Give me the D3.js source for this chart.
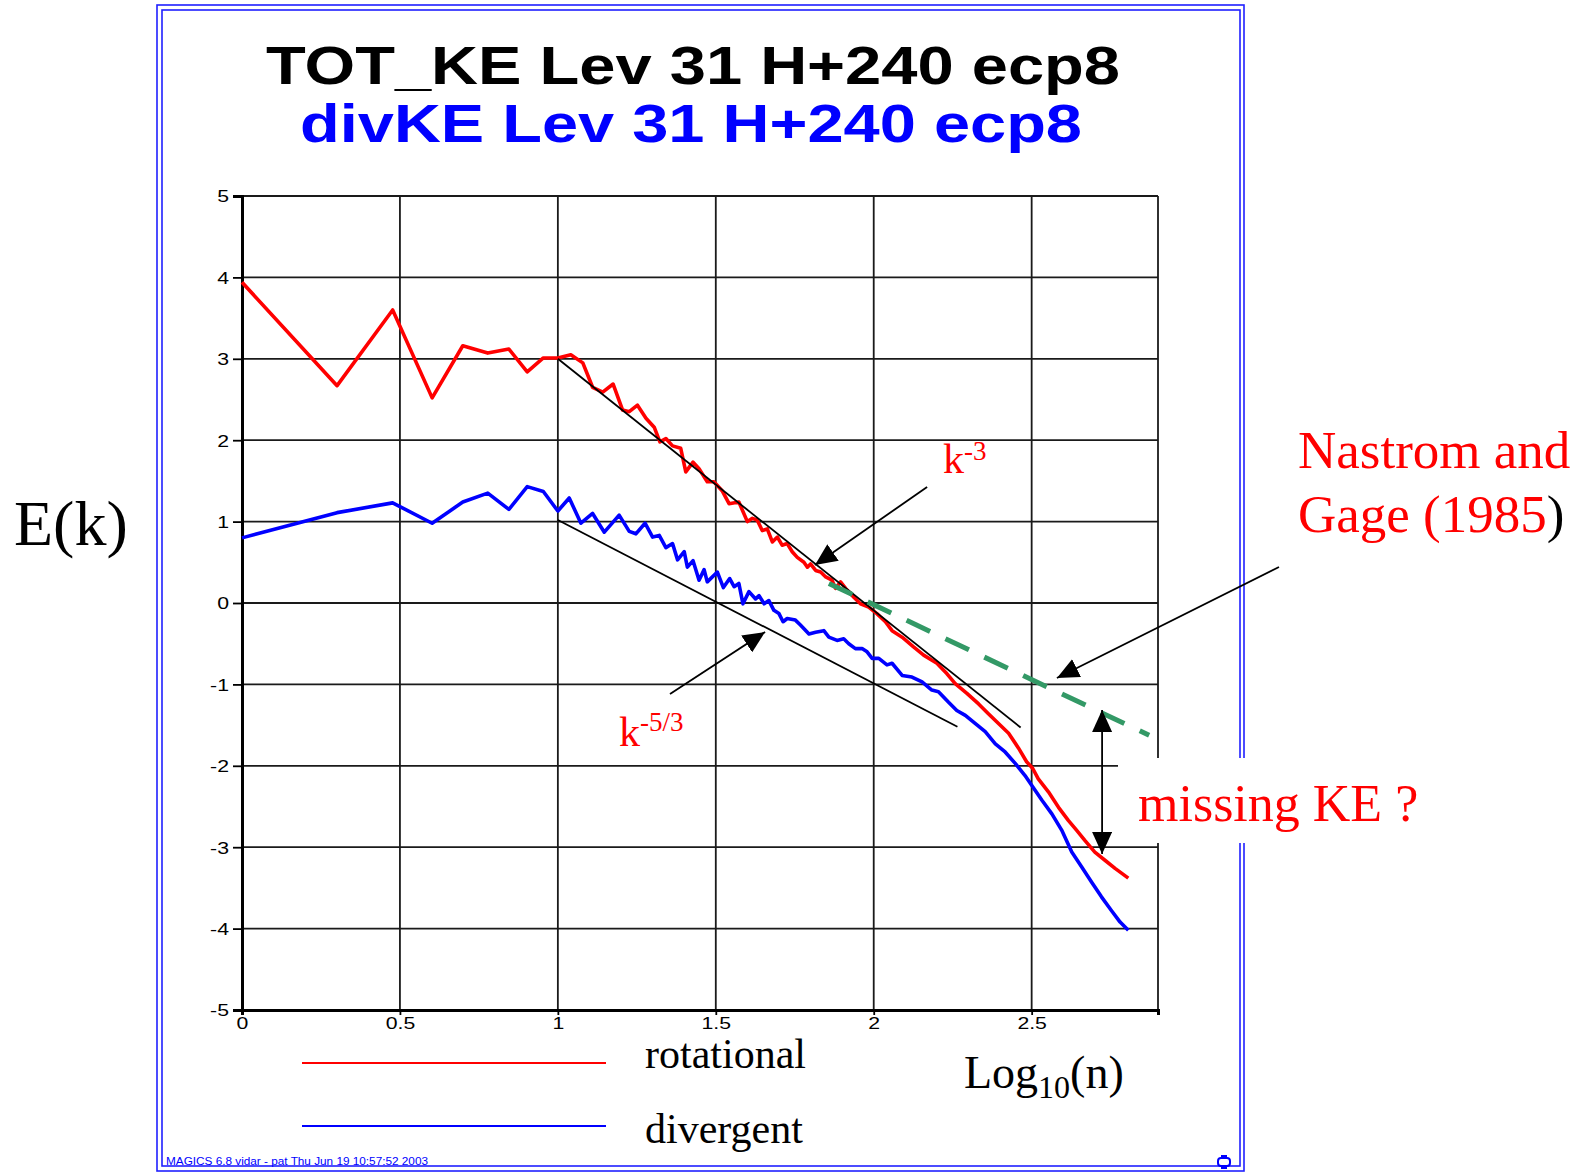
<!DOCTYPE html>
<html lang="en">
<head>
<meta charset="UTF-8" />
<title>TOT_KE / divKE Lev 31 H+240 ecp8</title>
<script src="https://d3js.org/d3.v7.min.js"></script>
<style>
  body { margin: 0; background: #fff; }
  svg { display: block; }
  .magics { font-family: "Liberation Sans", Arial, sans-serif; }
  .times { font-family: "Liberation Serif", "Times New Roman", serif; }
</style>
</head>
<body>
<svg id="chart" width="1592" height="1172"></svg>
<script>
// axis ticks
const xTicks = [0, 0.5, 1, 1.5, 2, 2.5];
const yTicks = [5, 4, 3, 2, 1, 0, -1, -2, -3, -4, -5];

// rotational KE spectrum, x = log10(n)
const rotX = [0, 0.301, 0.477, 0.602, 0.699, 0.778, 0.845, 0.903, 0.954, 1.0, 1.041, 1.079,
  1.110, 1.142, 1.175, 1.205, 1.226, 1.252, 1.279, 1.305, 1.323, 1.342, 1.363, 1.389, 1.405,
  1.428, 1.447, 1.473, 1.494, 1.520, 1.542, 1.573, 1.600, 1.616, 1.631, 1.647, 1.663, 1.679,
  1.695, 1.710, 1.726, 1.742, 1.758, 1.779, 1.790, 1.800, 1.816, 1.832, 1.848, 1.868, 1.879,
  1.895, 1.911, 1.937, 1.958, 1.984, 2.010, 2.037, 2.058, 2.090, 2.126, 2.158, 2.200, 2.232,
  2.258, 2.295, 2.332, 2.363, 2.395, 2.427, 2.458, 2.484, 2.503, 2.521, 2.553, 2.585, 2.616,
  2.642, 2.669, 2.700, 2.732, 2.764, 2.806];
const rotY = [3.94, 2.67, 3.60, 2.52, 3.16, 3.07, 3.12, 2.84, 3.01, 3.01, 3.05, 2.95,
  2.65, 2.59, 2.69, 2.37, 2.35, 2.43, 2.27, 2.16, 1.98, 2.02, 1.93, 1.90, 1.61,
  1.73, 1.65, 1.49, 1.49, 1.38, 1.22, 1.24, 1.00, 1.04, 1.02, 0.89, 0.91, 0.75,
  0.81, 0.71, 0.73, 0.63, 0.56, 0.50, 0.44, 0.48, 0.40, 0.38, 0.32, 0.28, 0.18,
  0.26, 0.18, 0.07, -0.01, -0.05, -0.13, -0.23, -0.34, -0.42, -0.54, -0.64, -0.74, -0.87,
  -0.99, -1.11, -1.24, -1.36, -1.48, -1.60, -1.78, -1.95, -2.03, -2.16, -2.32, -2.51, -2.67,
  -2.79, -2.92, -3.06, -3.16, -3.26, -3.38];

// divergent KE spectrum
const divX = [0, 0.301, 0.477, 0.602, 0.699, 0.778, 0.845, 0.903, 0.954, 1.0, 1.036, 1.073,
  1.110, 1.147, 1.194, 1.226, 1.247, 1.276, 1.300, 1.321, 1.342, 1.363, 1.379, 1.400, 1.410,
  1.428, 1.447, 1.463, 1.473, 1.505, 1.524, 1.544, 1.558, 1.573, 1.586, 1.605, 1.626, 1.637,
  1.653, 1.668, 1.684, 1.700, 1.713, 1.726, 1.752, 1.768, 1.795, 1.816, 1.842, 1.858, 1.884,
  1.905, 1.921, 1.942, 1.963, 1.979, 1.995, 2.016, 2.042, 2.058, 2.090, 2.121, 2.153, 2.184,
  2.205, 2.237, 2.263, 2.290, 2.321, 2.353, 2.385, 2.416, 2.448, 2.479, 2.500, 2.532, 2.564,
  2.595, 2.627, 2.658, 2.690, 2.721, 2.753, 2.780, 2.806];
const divY = [0.80, 1.11, 1.23, 0.98, 1.24, 1.35, 1.15, 1.43, 1.37, 1.13, 1.29, 0.98,
  1.10, 0.87, 1.08, 0.88, 0.85, 0.98, 0.81, 0.83, 0.68, 0.73, 0.53, 0.63, 0.44,
  0.52, 0.28, 0.41, 0.26, 0.38, 0.19, 0.30, 0.20, 0.24, -0.01, 0.14, 0.05, 0.09,
  -0.01, 0.03, -0.09, -0.13, -0.23, -0.19, -0.21, -0.27, -0.38, -0.36, -0.34, -0.42, -0.46,
  -0.44, -0.50, -0.56, -0.56, -0.60, -0.68, -0.68, -0.76, -0.74, -0.89, -0.91, -0.97, -1.07,
  -1.09, -1.22, -1.32, -1.38, -1.48, -1.58, -1.73, -1.83, -1.97, -2.12, -2.24, -2.42, -2.59,
  -2.79, -3.06, -3.24, -3.43, -3.61, -3.78, -3.92, -4.02];

// reference slopes and Nastrom & Gage line
const slope3X = [1, 2.465], slope3Y = [3, -1.53];
const slope53X = [1, 2.265], slope53Y = [1.02, -1.52];
const nastromX = [1.858, 2.872], nastromY = [0.24, -1.625];

const svg = d3.select("#chart");
const x = d3.scaleLinear().domain([0, 2.9]).range([242, 1158]);
const y = d3.scaleLinear().domain([-5, 5]).range([1010, 196]);
const zip = (xs, ys) => xs.map((v, i) => [v, ys[i]]);
const line = d3.line().x(d => x(d[0])).y(d => y(d[1]));

// arrow heads
const defs = svg.append("defs");
defs.append("marker")
  .attr("id", "head")
  .attr("markerUnits", "userSpaceOnUse")
  .attr("viewBox", "0 -10 22 20")
  .attr("refX", 22).attr("refY", 0)
  .attr("markerWidth", 22).attr("markerHeight", 20)
  .attr("orient", "auto-start-reverse")
  .append("path").attr("d", "M0,-10L22,0L0,10Z").attr("fill", "#000");

// page frame (double blue border)
[[157, 5, 1244, 1171], [162, 10, 1240, 1166]].forEach(b => {
  svg.append("rect")
    .attr("x", b[0]).attr("y", b[1])
    .attr("width", b[2] - b[0]).attr("height", b[3] - b[1])
    .attr("fill", "none").attr("stroke", "#2020ff").attr("stroke-width", 1.6);
});

// titles
svg.append("text").attr("class", "magics")
  .attr("x", 266).attr("y", 84)
  .attr("font-size", 54).attr("font-weight", "bold")
  .attr("textLength", 854).attr("lengthAdjust", "spacingAndGlyphs")
  .text("TOT_KE Lev 31 H+240 ecp8");
svg.append("text").attr("class", "magics")
  .attr("x", 300).attr("y", 142)
  .attr("font-size", 54).attr("font-weight", "bold").attr("fill", "#0000ff")
  .attr("textLength", 782).attr("lengthAdjust", "spacingAndGlyphs")
  .text("divKE Lev 31 H+240 ecp8");

// grid
const grid = svg.append("g").attr("stroke", "#1a1a1a").attr("stroke-width", 1.8);
grid.selectAll(".h").data(yTicks).join("line")
  .attr("x1", x(0)).attr("x2", x(2.9))
  .attr("y1", d => y(d)).attr("y2", d => y(d));
grid.selectAll(".v").data(xTicks.slice(1).concat([2.9])).join("line")
  .attr("x1", d => x(d)).attr("x2", d => x(d))
  .attr("y1", y(5)).attr("y2", y(-5));

// axes
const yAxis = svg.append("g")
  .attr("transform", `translate(${x(0)},0)`)
  .call(d3.axisLeft(y).tickValues(yTicks).tickSize(9).tickPadding(4).tickFormat(d => String(d)));
const xAxis = svg.append("g")
  .attr("transform", `translate(0,${y(-5)})`)
  .call(d3.axisBottom(x).tickValues(xTicks).tickSize(5).tickPadding(3).tickFormat(d => String(d)));
[yAxis, xAxis].forEach(a => {
  a.select(".domain").attr("stroke", "#000").attr("stroke-width", 3);
  a.selectAll(".tick line").attr("stroke", "#000").attr("stroke-width", 1.8);
  a.selectAll(".tick text")
    .attr("class", "magics").attr("font-size", 17).attr("fill", "#000");
});
yAxis.selectAll(".tick text")
  .attr("transform", "translate(-13,0) scale(1.25,1)").attr("x", 0).attr("dy", "0.35em");
xAxis.selectAll(".tick text")
  .attr("transform", "translate(0,7) scale(1.25,1)").attr("y", 0).attr("dy", "0.71em");

// spectra
svg.append("path").datum(zip(rotX, rotY)).attr("d", line)
  .attr("fill", "none").attr("stroke", "#ff0000").attr("stroke-width", 3.6)
  .attr("stroke-linejoin", "round");
svg.append("path").datum(zip(divX, divY)).attr("d", line)
  .attr("fill", "none").attr("stroke", "#0000ff").attr("stroke-width", 3.6)
  .attr("stroke-linejoin", "round");

// slope lines
[[slope3X, slope3Y], [slope53X, slope53Y]].forEach(s => {
  svg.append("path").datum(zip(s[0], s[1])).attr("d", line)
    .attr("fill", "none").attr("stroke", "#000").attr("stroke-width", 1.8);
});
svg.append("path").datum(zip(nastromX, nastromY)).attr("d", line)
  .attr("fill", "none").attr("stroke", "#339966").attr("stroke-width", 5)
  .attr("stroke-dasharray", "26,17");

// white box behind "missing KE ?"
svg.append("rect").attr("x", 1118).attr("y", 758).attr("width", 320).attr("height", 85).attr("fill", "#fff");

// annotation arrows (data units)
const arrows = [
  { from: [2.169, 1.425], to: [1.814, 0.467] },
  { from: [1.355, -1.118], to: [1.656, -0.356] },
  { from: [3.283, 0.442], to: [2.580, -0.921] }
];
arrows.forEach(a => {
  svg.append("line")
    .attr("x1", x(a.from[0])).attr("y1", y(a.from[1]))
    .attr("x2", x(a.to[0])).attr("y2", y(a.to[1]))
    .attr("stroke", "#000").attr("stroke-width", 1.8)
    .attr("marker-end", "url(#head)");
});
svg.append("line")
  .attr("x1", x(2.723)).attr("y1", y(-1.314))
  .attr("x2", x(2.723)).attr("y2", y(-3.084))
  .attr("stroke", "#000").attr("stroke-width", 1.8)
  .attr("marker-start", "url(#head)").attr("marker-end", "url(#head)");

// overlay labels
const red = "#ff0000";
svg.append("text").attr("class", "times").attr("x", 14).attr("y", 545)
  .attr("font-size", 64).text("E(k)");

const k3 = svg.append("text").attr("class", "times").attr("x", 943).attr("y", 473)
  .attr("font-size", 42).attr("fill", red);
k3.append("tspan").text("k");
k3.append("tspan").attr("font-size", 27).attr("dy", -13).text("-3");

const k53 = svg.append("text").attr("class", "times").attr("x", 619).attr("y", 746)
  .attr("font-size", 42).attr("fill", red);
k53.append("tspan").text("k");
k53.append("tspan").attr("font-size", 27).attr("dy", -15).text("-5/3");

svg.append("text").attr("class", "times").attr("x", 1298).attr("y", 468)
  .attr("font-size", 53).attr("fill", red).text("Nastrom and");
const gage = svg.append("text").attr("class", "times").attr("x", 1298).attr("y", 532)
  .attr("font-size", 53).attr("fill", red);
gage.append("tspan").text("Gage (1985");
gage.append("tspan").attr("fill", "#000").text(")");

svg.append("text").attr("class", "times").attr("x", 1138).attr("y", 821)
  .attr("font-size", 52).attr("fill", red).text("missing KE ?");

// legend
const legend = [
  { label: "rotational", color: "#ff0000", ly: 1063, ty: 1068 },
  { label: "divergent", color: "#0000ff", ly: 1126, ty: 1143 }
];
legend.forEach(l => {
  svg.append("line").attr("x1", 302).attr("x2", 606).attr("y1", l.ly).attr("y2", l.ly)
    .attr("stroke", l.color).attr("stroke-width", 2);
  svg.append("text").attr("class", "times").attr("x", 645).attr("y", l.ty)
    .attr("font-size", 42).text(l.label);
});

const xl = svg.append("text").attr("class", "times").attr("x", 964).attr("y", 1088)
  .attr("font-size", 46);
xl.append("tspan").text("Log");
xl.append("tspan").attr("font-size", 32).attr("dy", 10).text("10");
xl.append("tspan").attr("dy", -10).text("(n)");

// footer
svg.append("text").attr("class", "magics").attr("x", 166).attr("y", 1165)
  .attr("font-size", 10).attr("fill", "#0000ff")
  .attr("textLength", 262).attr("lengthAdjust", "spacingAndGlyphs")
  .text("MAGICS 6.8 vidar - pat Thu Jun 19 10:57:52 2003");
const logo = svg.append("g").attr("transform", "translate(1224,1162)")
  .attr("fill", "none").attr("stroke", "#0000ff").attr("stroke-width", 2);
logo.append("rect").attr("x", -6).attr("y", -4).attr("width", 12).attr("height", 8).attr("rx", 3);
logo.append("line").attr("x1", -3).attr("x2", 3).attr("y1", -6).attr("y2", -6);
logo.append("line").attr("x1", -3).attr("x2", 3).attr("y1", 6).attr("y2", 6);
</script>
</body>
</html>
